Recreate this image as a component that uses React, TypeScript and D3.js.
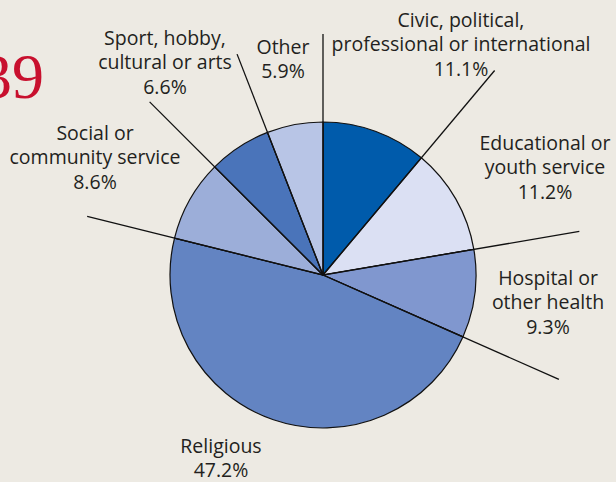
import { useEffect, useRef } from 'react';
import * as d3 from 'd3';

// Share of volunteers by main organisation type (%)
const categories = [
  'Civic, political, professional or international',
  'Educational or youth service',
  'Hospital or other health',
  'Religious',
  'Social or community service',
  'Sport, hobby, cultural or arts',
  'Other',
];
const shares = [11.1, 11.2, 9.3, 47.2, 8.6, 6.6, 5.9];
const sliceColors = ['#005bab', '#dbe0f3', '#8097cf', '#6384c2', '#9caed9', '#4a74ba', '#b8c5e6'];

// label text lines, as printed
const labelLines = [
  ['Civic, political,', 'professional or international', '11.1%'],
  ['Educational or', 'youth service', '11.2%'],
  ['Hospital or', 'other health', '9.3%'],
  ['Religious', '47.2%'],
  ['Social or', 'community service', '8.6%'],
  ['Sport, hobby,', 'cultural or arts', '6.6%'],
  ['Other', '5.9%'],
];

// layout: label anchor (centre x, first line middle y) and leader length at slice start
const labelPos: [number, number][] = [
  [461, 20], [545, 143], [548, 278], [221, 446], [95, 133], [165, 38], [283, 47],
];
const leaderLen = [241, 267, 260, 258, 243, 245, 237];

const W = 616;
const H = 482;

export default function App() {
  const ref = useRef<SVGSVGElement | null>(null);

  useEffect(() => {
    if (!ref.current) return;
    const svg = d3.select(ref.current);
    svg.selectAll('*').remove();

    svg.append('rect').attr('width', W).attr('height', H).attr('fill', '#edeae3');

    // page number fragment at the left edge
    svg.append('text')
      .attr('x', 44)
      .attr('y', 98)
      .attr('text-anchor', 'end')
      .attr('fill', '#c8102e')
      .style('font-family', '"Liberation Serif", "DejaVu Serif", serif')
      .style('font-size', '64px')
      .text('39');

    const cx = 323;
    const cy = 275;
    const r = 153;

    const pie = d3.pie<number>().sort(null).value((d) => d);
    const arcs = pie(shares);
    const arc = d3.arc<d3.PieArcDatum<number>>().innerRadius(0).outerRadius(r);

    const g = svg.append('g').attr('transform', `translate(${cx},${cy})`);

    g.selectAll('path.slice')
      .data(arcs)
      .enter()
      .append('path')
      .attr('class', 'slice')
      .attr('d', arc)
      .attr('fill', (_d, i) => sliceColors[i])
      .attr('stroke', '#111')
      .attr('stroke-width', 1.2)
      .attr('stroke-linejoin', 'round');

    // leader lines along the slice boundaries
    g.selectAll('line.leader')
      .data(arcs)
      .enter()
      .append('line')
      .attr('class', 'leader')
      .attr('x1', 0)
      .attr('y1', 0)
      .attr('x2', (d, i) => Math.sin(d.startAngle) * leaderLen[i])
      .attr('y2', (d, i) => -Math.cos(d.startAngle) * leaderLen[i])
      .attr('stroke', '#111')
      .attr('stroke-width', 1.3);

    // labels
    const lineH = 24.5;
    categories.forEach((_c, i) => {
      const [lx, ly] = labelPos[i];
      const t = svg.append('text')
        .attr('text-anchor', 'middle')
        .attr('fill', '#231f20')
        .style('font-family', '"Open Sans", "Noto Sans", sans-serif')
        .style('font-size', '19.5px');
      labelLines[i].forEach((ln, j) => {
        t.append('tspan')
          .attr('x', lx)
          .attr('y', ly + j * lineH)
          .attr('dy', '0.35em')
          .text(ln);
      });
    });
  }, []);

  return (
    <svg
      ref={ref}
      width={W}
      height={H}
      style={{ position: 'absolute', left: 0, top: 0, display: 'block' }}
    />
  );
}
